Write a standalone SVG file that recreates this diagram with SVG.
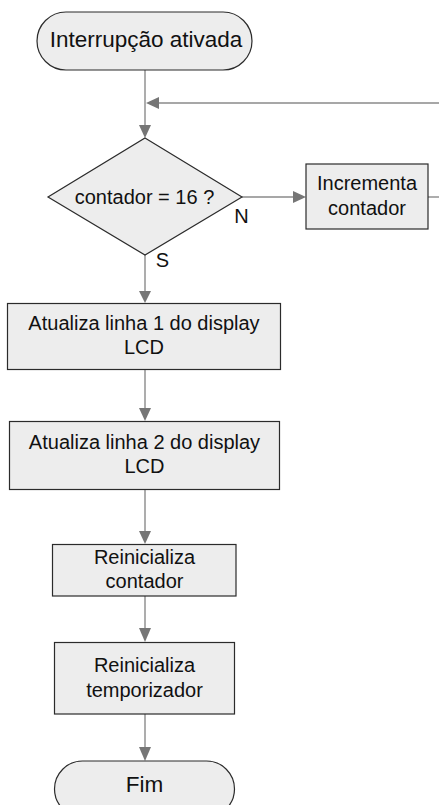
<svg xmlns="http://www.w3.org/2000/svg" width="439" height="805" viewBox="0 0 439 805">
  <style>
    .shape { fill: #ededed; stroke: #2b2b2b; stroke-width: 1.2; }
    .lbl { font-family: "Liberation Sans", Arial, sans-serif; font-size: 20px; fill: #111; text-anchor: middle; }
    .big { font-size: 22.5px; }
    .edge { fill: none; stroke: #8a8a8a; stroke-width: 1.4; }
    .head { fill: #767676; stroke: none; }
  </style>
  <rect width="439" height="805" fill="#ffffff"/>

  <!-- connectors -->
  <g id="connectors">
    <line class="edge" x1="145" y1="70" x2="145" y2="126"/>
    <polygon class="head" points="139,125 151,125 145,138"/>
    <line class="edge" x1="439" y1="103" x2="158" y2="103"/>
    <polygon class="head" points="159,97 159,109 146,103"/>
    <line class="edge" x1="242" y1="197" x2="294" y2="197"/>
    <polygon class="head" points="293,191 293,203 306,197"/>
    <line class="edge" x1="428" y1="197" x2="439" y2="197"/>
    <line class="edge" x1="145" y1="255" x2="145" y2="292"/>
    <polygon class="head" points="139,291 151,291 145,303"/>
    <line class="edge" x1="145" y1="369" x2="145" y2="409"/>
    <polygon class="head" points="139,408 151,408 145,421"/>
    <line class="edge" x1="145" y1="489" x2="145" y2="532"/>
    <polygon class="head" points="139,531 151,531 145,544"/>
    <line class="edge" x1="145" y1="596" x2="145" y2="629"/>
    <polygon class="head" points="139,628 151,628 145,642"/>
    <line class="edge" x1="145" y1="714" x2="145" y2="748"/>
    <polygon class="head" points="139,747 151,747 145,761"/>
    <text class="lbl" x="241.5" y="223">N</text>
    <text class="lbl" x="162.5" y="267">S</text>
  </g>

  <g id="start">
    <rect class="shape" x="37" y="12" width="215" height="58" rx="29" ry="29"/>
    <text class="lbl big" x="146" y="46.5">Interrupção ativada</text>
  </g>

  <g id="decision">
    <polygon class="shape" points="145,138 242,197 145,255 48,197"/>
    <text class="lbl" x="144.5" y="204">contador = 16 ?</text>
  </g>

  <g id="increment">
    <rect class="shape" x="306" y="164" width="122" height="65"/>
    <text class="lbl" x="367" y="190">Incrementa</text>
    <text class="lbl" x="367" y="214.5">contador</text>
  </g>

  <g id="line1">
    <rect class="shape" x="7.5" y="303.5" width="273" height="66"/>
    <text class="lbl" x="144" y="330">Atualiza linha 1 do display</text>
    <text class="lbl" x="144" y="354">LCD</text>
  </g>

  <g id="line2">
    <rect class="shape" x="9.5" y="421.5" width="270" height="68"/>
    <text class="lbl" x="144.5" y="448.5">Atualiza linha 2 do display</text>
    <text class="lbl" x="144.5" y="472.5">LCD</text>
  </g>

  <g id="resetCounter">
    <rect class="shape" x="52.5" y="544.5" width="183.5" height="51.5"/>
    <text class="lbl" x="144.5" y="563.5">Reinicializa</text>
    <text class="lbl" x="144.5" y="588">contador</text>
  </g>

  <g id="resetTimer">
    <rect class="shape" x="54.5" y="642.5" width="180" height="71.5"/>
    <text class="lbl" x="144.5" y="671.5">Reinicializa</text>
    <text class="lbl" x="144.5" y="696.5">temporizador</text>
  </g>

  <g id="end">
    <rect class="shape" x="54.5" y="761" width="180" height="56" rx="28" ry="28"/>
    <text class="lbl big" x="144.5" y="791.5">Fim</text>
  </g>
</svg>
